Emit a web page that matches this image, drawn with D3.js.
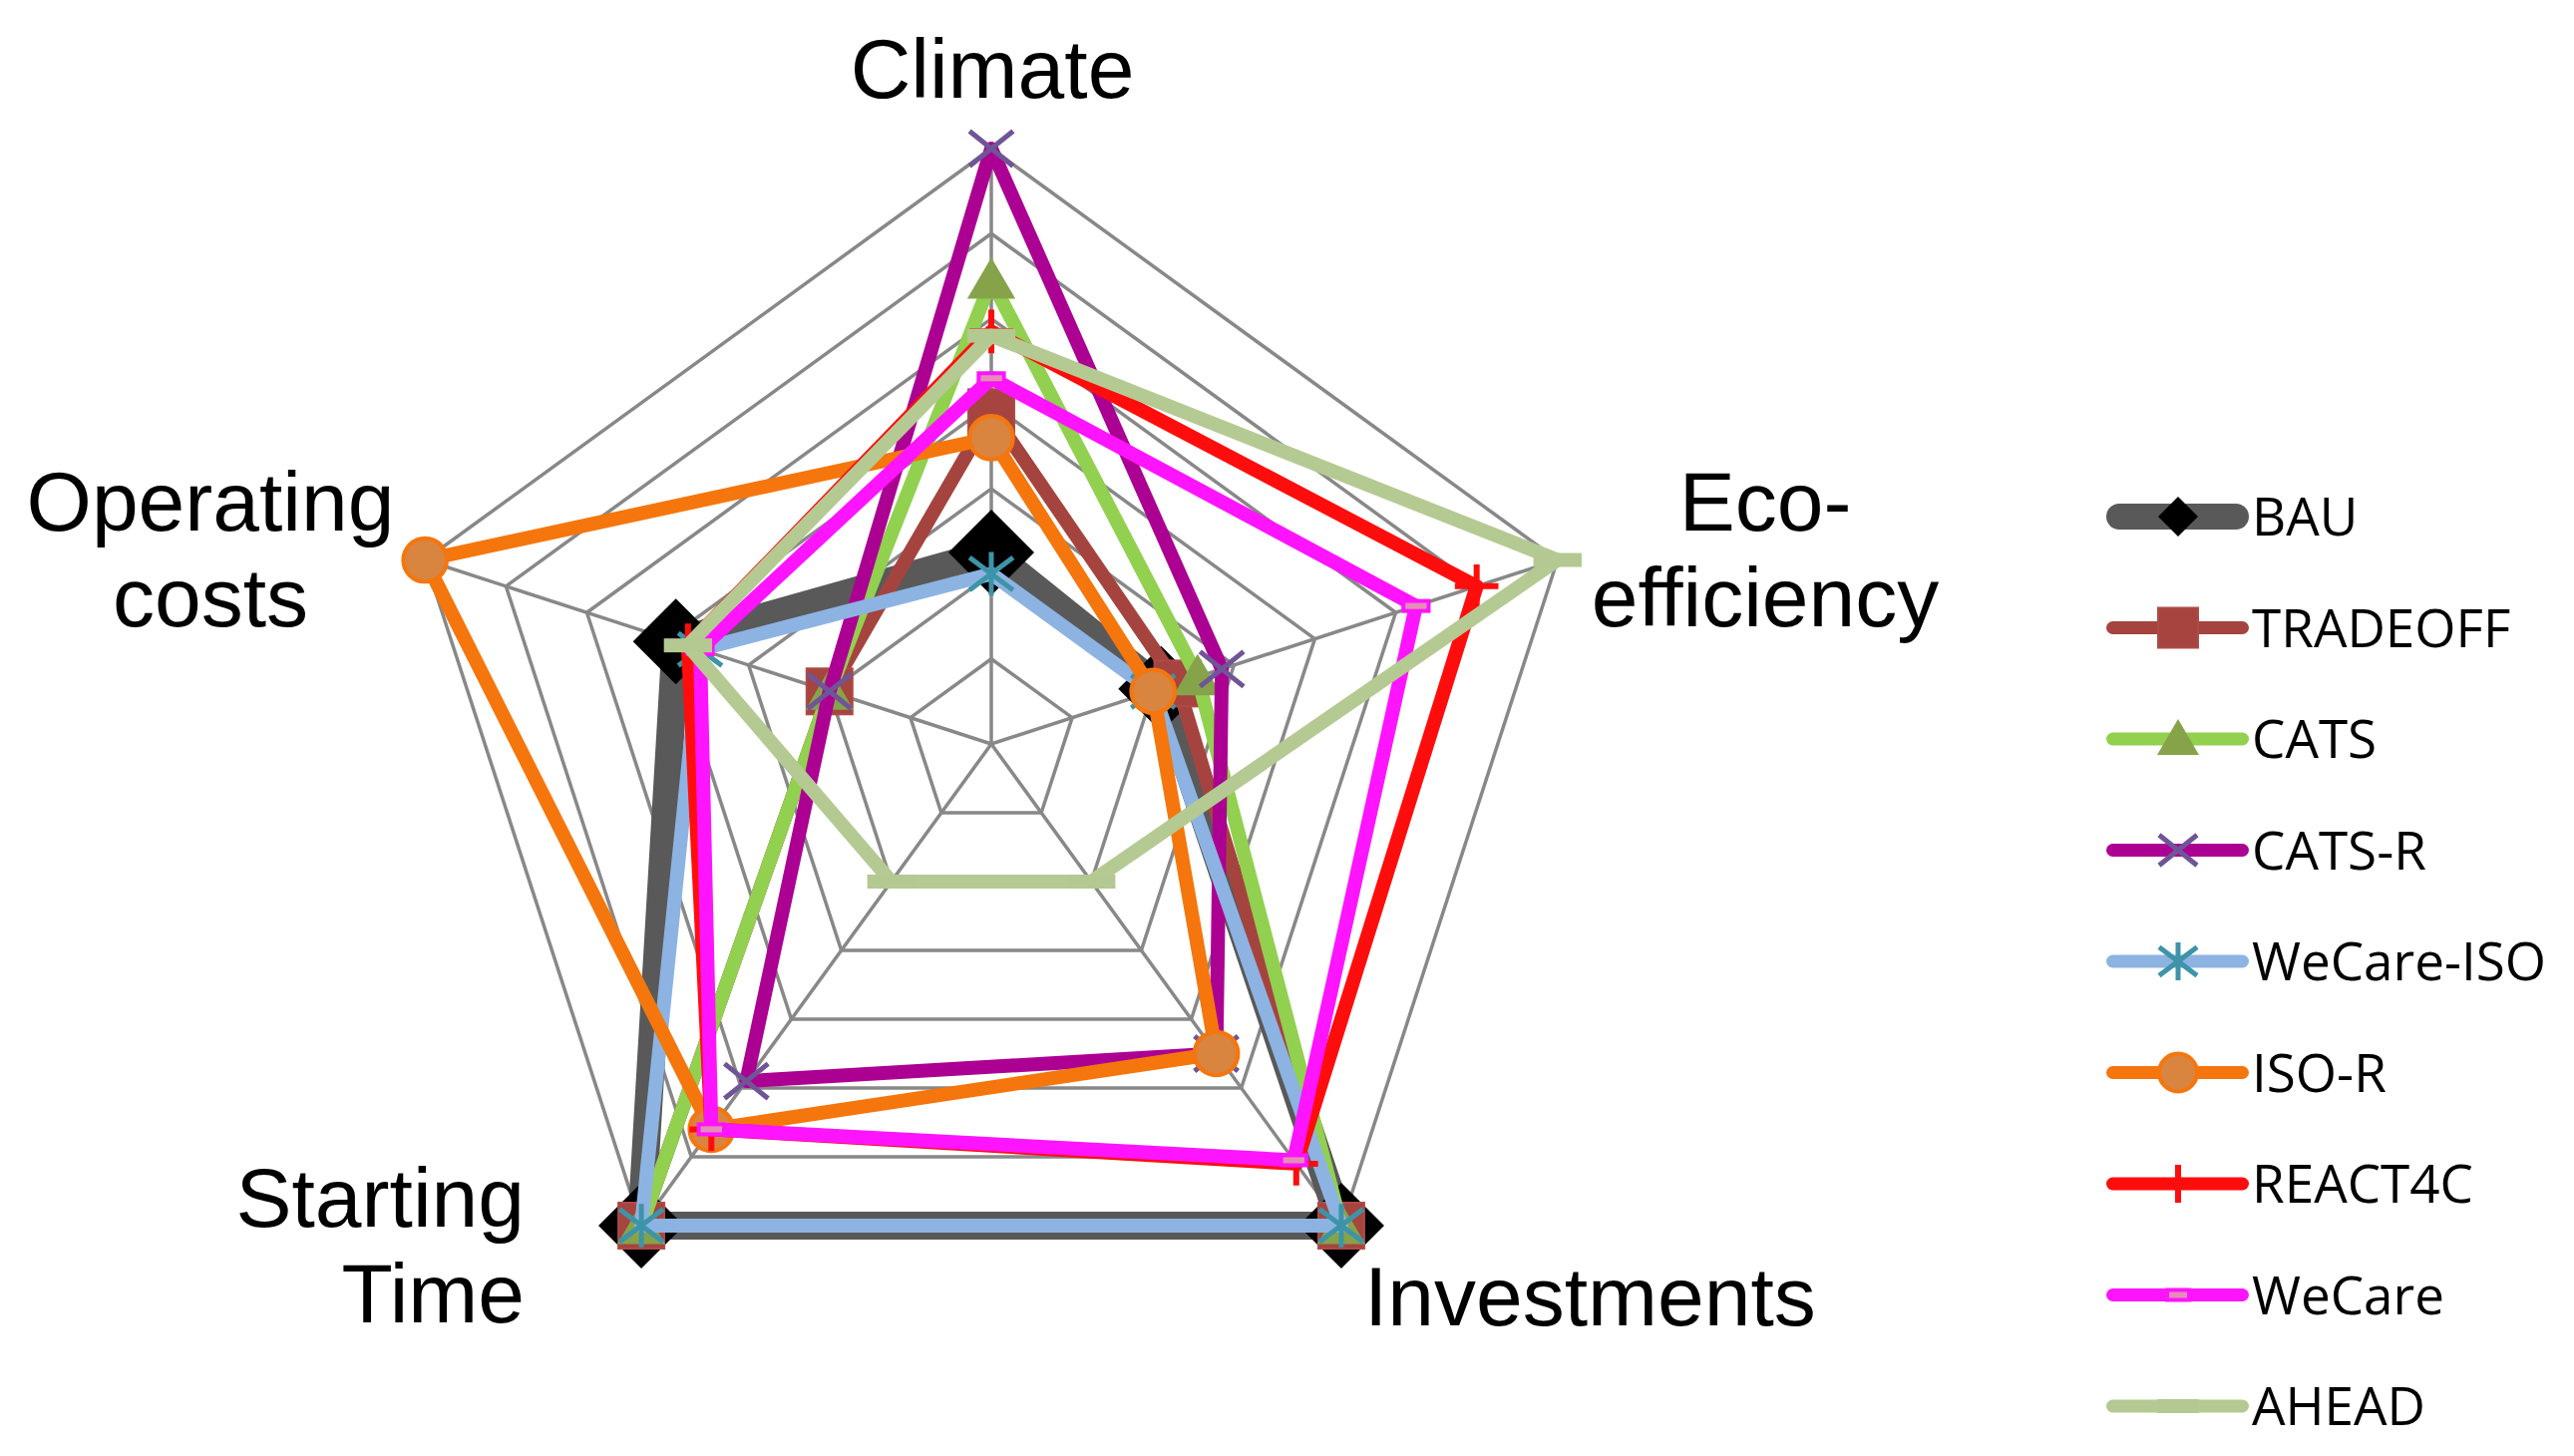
<!DOCTYPE html>
<html>
<head>
<meta charset="utf-8">
<script src="https://cdn.jsdelivr.net/npm/d3@7"></script>
<style>
  html, body { margin: 0; padding: 0; background: #fff; }
  svg { display: block; }
</style>
</head>
<body>
<svg id="chart" width="2581" height="1460"></svg>
<script>
// ---- data ----
const axes = ["Climate", "Eco-efficiency", "Investments", "Starting Time", "Operating costs"];
const seriesNames = ["BAU", "TRADEOFF", "CATS", "CATS-R", "WeCare-ISO", "ISO-R", "REACT4C", "WeCare", "AHEAD"];
// values per series, in axis order: Climate, Eco-efficiency, Investments, Starting Time, Operating costs
const BAU        = [2.25, 2.1, 7, 7, 3.9];
const TRADEOFF   = [3.9, 2.3, 7, 7, 2.0];
const CATS       = [5.45, 2.55, 7, 7, 2.0];
const CATS_R     = [7, 2.85, 4.5, 4.9, 2.0];
const WeCare_ISO = [2.0, 2.0, 7, 7, 3.6];
const ISO_R      = [3.6, 2.0, 4.5, 5.6, 7];
const REACT4C    = [4.85, 6.0, 6.1, 5.6, 3.75];
const WeCare     = [4.3, 5.25, 6.05, 5.6, 3.6];
const AHEAD      = [4.8, 7, 2.0, 2.0, 3.75];
const seriesValues = [BAU, TRADEOFF, CATS, CATS_R, WeCare_ISO, ISO_R, REACT4C, WeCare, AHEAD];
const gridLevels = [1, 2, 3, 4, 5, 6, 7];

// ---- styles ----
const styles = {
  "BAU":        {line: "#595959", width: 28, marker: "diamond"},
  "TRADEOFF":   {line: "#A5443F", width: 14, marker: "square"},
  "CATS":       {line: "#92D050", width: 14, marker: "triangle"},
  "CATS-R":     {line: "#AC0093", width: 14, marker: "x"},
  "WeCare-ISO": {line: "#8DB3E2", width: 14, marker: "asterisk"},
  "ISO-R":      {line: "#F5760C", width: 14, marker: "circle"},
  "REACT4C":    {line: "#FF0D0D", width: 14, marker: "plus"},
  "WeCare":     {line: "#FF14FF", width: 14, marker: "dashPink"},
  "AHEAD":      {line: "#B5CA92", width: 14, marker: "dashGreen"}
};

const svg = d3.select("#chart");
const cx = 994, cy = 746, R = 597;
const r = d3.scaleLinear().domain([0, 7]).range([0, R]);
const angle = d3.scaleLinear().domain([0, axes.length]).range([-Math.PI / 2, 1.5 * Math.PI]);
const pt = (i, v) => [cx + r(v) * Math.cos(angle(i)), cy + r(v) * Math.sin(angle(i))];

// grid rings
const gGrid = svg.append("g");
gridLevels.forEach(lv => {
  gGrid.append("polygon")
    .attr("points", axes.map((a, i) => pt(i, lv).join(",")).join(" "))
    .attr("fill", "none").attr("stroke", "#888888").attr("stroke-width", 3.5);
});
axes.forEach((a, i) => {
  const [x, y] = pt(i, 7);
  gGrid.append("line").attr("x1", cx).attr("y1", cy).attr("x2", x).attr("y2", y)
    .attr("stroke", "#888888").attr("stroke-width", 3.5);
});

// marker drawing; k = size factor, dia = half-diagonal of diamond
function drawMarker(g, type, x, y, k, dia) {
  const m = g.append("g").attr("transform", `translate(${x},${y})`);
  const s = 19 * k;
  switch (type) {
    case "diamond":
      m.append("path").attr("d", `M0,${-dia}L${dia},0L0,${dia}L${-dia},0Z`).attr("fill", "#000");
      break;
    case "square":
      m.append("rect").attr("x", -20 * k).attr("y", -20 * k).attr("width", 40 * k).attr("height", 40 * k)
        .attr("fill", "#A6443F").attr("stroke", "#AE4B47").attr("stroke-width", 2);
      break;
    case "triangle":
      m.append("path").attr("d", `M0,${-20 * k}L${21 * k},${16 * k}L${-21 * k},${16 * k}Z`).attr("fill", "#86A34A");
      break;
    case "x":
      m.append("path").attr("d", `M${-s},${-s * 0.8}L${s},${s * 0.8}M${-s},${s * 0.8}L${s},${-s * 0.8}`)
        .attr("stroke", "#6F5597").attr("stroke-width", 5);
      break;
    case "asterisk":
      m.append("path").attr("d", `M${-s},${-s * 0.75}L${s},${s * 0.75}M${-s},${s * 0.75}L${s},${-s * 0.75}M0,${-s}L0,${s}`)
        .attr("stroke", "#3D94A9").attr("stroke-width", 5);
      break;
    case "circle":
      m.append("circle").attr("r", s).attr("fill", "#D9843F").attr("stroke", "#F5760C").attr("stroke-width", 4);
      break;
    case "plus":
      m.append("path").attr("d", `M0,${-s}L0,${s}M${-s},0L${s},0`)
        .attr("stroke", "#FF0D0D").attr("stroke-width", 6);
      break;
    case "dashPink":
      m.append("rect").attr("x", -11 * k).attr("y", -5).attr("width", 22 * k).attr("height", 10)
        .attr("fill", "#E48EB6").attr("stroke", "#FF14FF").attr("stroke-width", 4);
      break;
    case "dashGreen":
      m.append("rect").attr("x", -21 * k).attr("y", -7).attr("width", 42 * k).attr("height", 14)
        .attr("fill", "#B4C892");
      break;
  }
}

// series
const lineGen = d3.line().curve(d3.curveLinearClosed);
const gSeries = svg.append("g");
seriesNames.forEach((name, si) => {
  const st = styles[name];
  const vals = seriesValues[si];
  const pts = vals.map((v, i) => pt(i, v));
  const g = gSeries.append("g");
  g.append("path").attr("d", lineGen(pts)).attr("fill", "none")
    .attr("stroke", st.line).attr("stroke-width", st.width).attr("stroke-linejoin", "round");
  pts.forEach(p => drawMarker(g, st.marker, p[0], p[1], 1.15, 43));
});

// axis labels
const labelFont = "'Liberation Sans', Arial, sans-serif";
const labels = [
  {lines: ["Climate"], x: 995, y: 98, anchor: "middle"},
  {lines: ["Eco-", "efficiency"], x: 1770, y: 532, anchor: "middle"},
  {lines: ["Investments"], x: 1368, y: 1329, anchor: "start"},
  {lines: ["Starting", "Time"], x: 526, y: 1230, anchor: "end"},
  {lines: ["Operating", "costs"], x: 211, y: 532, anchor: "middle"}
];
labels.forEach(l => {
  const t = svg.append("text").attr("font-family", labelFont).attr("font-size", 84)
    .attr("fill", "#000").attr("text-anchor", l.anchor);
  l.lines.forEach((ln, k) => t.append("tspan").attr("x", l.x).attr("y", l.y + k * 96).text(ln));
});

// legend
const gLeg = svg.append("g");
seriesNames.forEach((name, i) => {
  const st = styles[name];
  const y = 518 + i * 111.5;
  const lw = name === "BAU" ? 26 : 13;
  const half = lw / 2;
  gLeg.append("line").attr("x1", 2112 + half).attr("x2", 2255 - half).attr("y1", y).attr("y2", y)
    .attr("stroke", st.line).attr("stroke-width", lw).attr("stroke-linecap", "round");
  drawMarker(gLeg, st.marker, 2184, y, 1, 20);
  gLeg.append("text").attr("x", 2258).attr("y", y + 19)
    .attr("font-family", "'Open Sans', 'Noto Sans', sans-serif").attr("font-size", 53)
    .attr("fill", "#000").text(name);
});
</script>
</body>
</html>
